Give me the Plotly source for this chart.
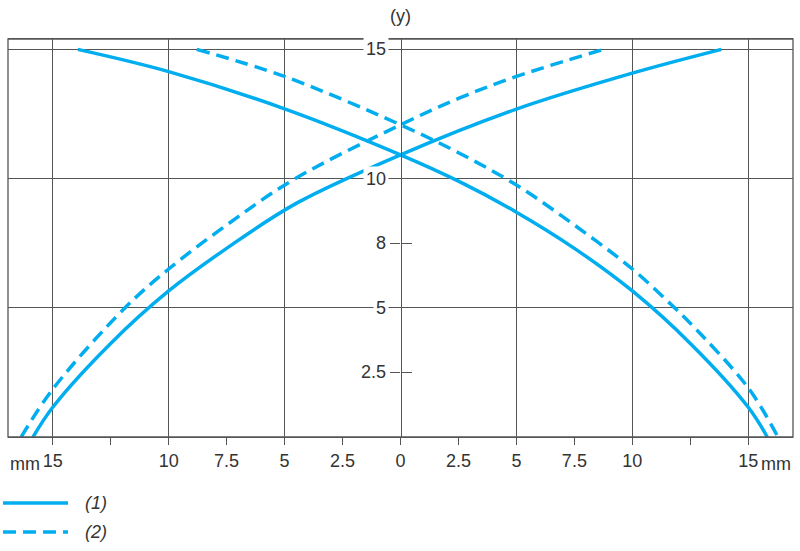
import plotly.graph_objects as go

# ---- data ----
solid_desc_x = [-13.92, -10, -5, 0, 2.5, 5, 7.5, 10, 12.5, 15, 15.82]
solid_desc_y = [15, 14.14, 12.7, 10.92, 9.9, 8.7, 7.3, 5.65, 3.62, 1.15, 0]
solid_asc_x = [-15.85, -15, -12.5, -10, -7.5, -4.48, 0, 5, 10, 13.84]
solid_asc_y = [0, 1.15, 3.62, 5.65, 7.3, 9.05, 10.92, 12.69, 14.08, 15]
dashed_desc_x = [-8.79, -5, 0, 2.5, 5, 7.5, 10, 11.82, 12.5, 15, 16.28]
dashed_desc_y = [15, 13.95, 12.08, 11.0, 9.75, 8.2, 6.5, 5.0, 4.4, 1.9, 0]
dashed_asc_x = [-16.36, -15, -11.88, -10, -7.5, -4.63, 0, 2.5, 5, 8.76]
dashed_asc_y = [0, 1.85, 5.0, 6.5, 8.2, 9.95, 12.08, 13.1, 13.95, 15]

x_tickvals = [-15, -12.5, -10, -7.5, -5, -2.5, 0, 2.5, 5, 7.5, 10, 12.5, 15]
x_ticktext = ["15", "", "10", "7.5", "5", "2.5", "0", "2.5", "5", "7.5", "10", "", "15"]
x_gridvals = [-15, -10, -5, 5, 10, 15]
y_tickvals = [2.5, 5, 7.5, 10, 15]
y_ticktext = ["2.5", "5", "8", "10", "15"]
y_gridvals = [5, 10, 15]
legend_labels = ["(1)", "(2)"]

CYAN = "#00AEEF"
GRID = "#555555"
TXT = "#333333"
FONT = "Liberation Sans, Arial, sans-serif"
FS = 18
DASH = "13px,7px"

fig = go.Figure()
for xs, ys, dash in [(solid_desc_x, solid_desc_y, "solid"),
                     (solid_asc_x, solid_asc_y, "solid"),
                     (dashed_desc_x, dashed_desc_y, DASH),
                     (dashed_asc_x, dashed_asc_y, DASH)]:
    fig.add_trace(go.Scatter(x=xs, y=ys, mode="lines",
                             line=dict(color=CYAN, width=3.5, dash=dash, shape="spline"),
                             showlegend=False, hoverinfo="skip"))

fig.update_layout(
    width=800, height=551,
    margin=dict(l=8, r=7, t=39, b=114),
    paper_bgcolor="white", plot_bgcolor="white",
    font=dict(family=FONT, size=FS, color=TXT),
    showlegend=False,
    xaxis=dict(range=[-16.93, 16.93], tickmode="array", tickvals=x_tickvals,
               ticktext=x_ticktext, ticks="outside", ticklen=7, tickwidth=1.3,
               tickcolor=GRID, showgrid=False, zeroline=False,
               showline=True, linecolor=GRID, linewidth=1.3, mirror=True,
               tickfont=dict(family=FONT, size=FS, color=TXT),
               minor=dict(tickmode="array", tickvals=x_gridvals, showgrid=True,
                          gridcolor=GRID, gridwidth=1.3, ticks="")),
    yaxis=dict(range=[0, 15.4], anchor="free", position=0.5, side="left",
               tickmode="array", tickvals=y_tickvals, ticks="outside", ticklen=10,
               tickwidth=1.3, tickcolor=GRID, showticklabels=False,
               showgrid=False, zeroline=False, showline=True, linecolor=GRID,
               linewidth=1.3,
               minor=dict(tickmode="array", tickvals=y_gridvals, showgrid=True,
                          gridcolor=GRID, gridwidth=1.3, ticks="")),
    yaxis2=dict(range=[0, 15.4], overlaying="y", anchor="free", position=0.5,
                side="right", tickmode="array", tickvals=y_tickvals, ticks="outside",
                ticklen=10, tickwidth=1.3, tickcolor=GRID, showticklabels=False,
                showgrid=False, zeroline=False, showline=False),
)
# invisible trace to activate yaxis2
fig.add_trace(go.Scatter(x=[0], y=[0], yaxis="y2", mode="markers",
                         marker=dict(opacity=0), showlegend=False, hoverinfo="skip"))

# frame
fig.add_shape(type="rect", xref="paper", yref="paper", x0=0, x1=1, y0=0, y1=1,
              line=dict(color=GRID, width=1.3), layer="above")

anns = []
for v, t in zip(y_tickvals, y_ticktext):
    anns.append(dict(x=0, y=v, xref="x", yref="y", text=t, showarrow=False,
                     xanchor="right", yanchor="middle", xshift=-12,
                     bgcolor="white", borderpad=2,
                     font=dict(family=FONT, size=FS, color=TXT)))
anns.append(dict(x=0, y=1, xref="x", yref="paper", text="(y)", showarrow=False,
                 xanchor="center", yanchor="middle", yshift=23,
                 font=dict(family=FONT, size=FS, color=TXT)))
anns.append(dict(x=0.0, y=-0.0678, xref="paper", yref="paper", text="mm",
                 showarrow=False, xanchor="left", yanchor="middle",
                 font=dict(family=FONT, size=FS, color=TXT)))
anns.append(dict(x=1.0, y=-0.0678, xref="paper", yref="paper", text="mm",
                 showarrow=False, xanchor="right", yanchor="middle",
                 font=dict(family=FONT, size=FS, color=TXT)))

leg_y = [-0.1658, -0.2387]
for ly, lab, dash in zip(leg_y, legend_labels, ["solid", DASH]):
    fig.add_shape(type="line", xref="paper", yref="paper", x0=-0.0064, x1=0.0764,
                  y0=ly, y1=ly, line=dict(color=CYAN, width=3.5, dash=dash))
    anns.append(dict(x=0.0955, y=ly, xref="paper", yref="paper",
                     text="<i>" + lab + "</i>", showarrow=False,
                     xanchor="left", yanchor="middle",
                     font=dict(family=FONT, size=FS, color=TXT)))

fig.update_layout(annotations=anns)
fig.write_html("out.html")
